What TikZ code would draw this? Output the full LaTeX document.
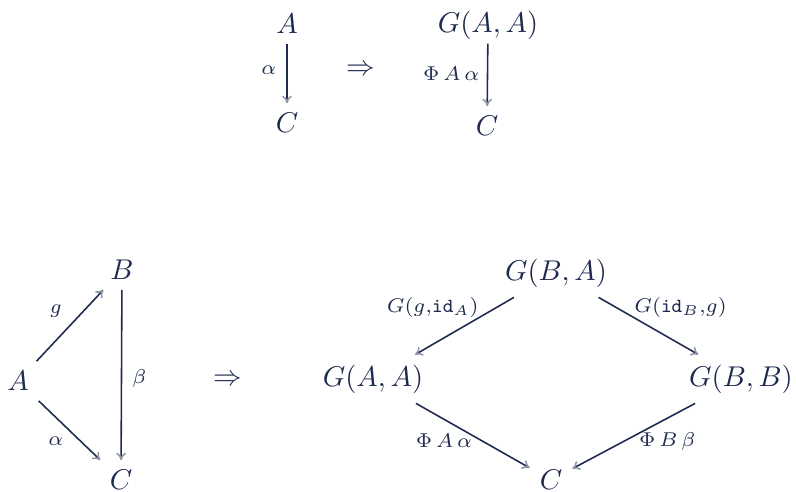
\documentclass[tikz,border=0pt]{standalone}
\usepackage{amsmath, amssymb}
\usepackage{xcolor}
\usepackage{tikz}
\usetikzlibrary{arrows.meta, positioning}
\definecolor{ink}{HTML}{1E2A4E}

\begin{document}
\begin{tikzpicture}[
    x=0.35pt, y=-0.35pt,
    obj/.style={text=ink},
    lbl/.style={text=ink, font=\scriptsize, inner sep=1pt},
    arrow/.style={-{To[length=2.6pt, width=3.4pt, color=ink!50]}, draw=ink, line width=0.55pt}
]
\useasboundingbox (0,0) rectangle (796,491);

% top row: one arrow becomes one arrow
\node[obj] (a0)   at (287,24)  {$A$};
\node[obj] (c0)   at (287,123) {$C$};
\node[obj] (imp0) at (361,70)  {$\Rightarrow$};
\node[obj] (gaa0) at (488,25)  {$G(A,A)$};
\node[obj] (c1)   at (487,126) {$C$};

\draw[arrow] (a0) -- node[lbl, pos=0.45, anchor=east, xshift=-2.5pt] (la0) {$\alpha$} (c0);
\draw[arrow, shorten <=-2pt] (gaa0) -- node[lbl, pos=0.45, anchor=east, xshift=-1.6pt, yshift=0.6pt] (lp0) {$\Phi\,A\,\alpha$} (c1);

% bottom row: triangle becomes square
\node[obj] (a)    at (18,381)  {$A$};
\node[obj] (b)    at (122,270) {$B$};
\node[obj] (c)    at (121,480) {$C$};
\node[obj] (imp1) at (228,380) {$\Rightarrow$};

\draw[arrow] (a) -- node[lbl, pos=0.5, anchor=south east, xshift=-1.6pt, yshift=1.4pt] (lg) {$g$} (b);
\draw[arrow] (b) -- node[lbl, pos=0.52, anchor=west, xshift=2.5pt] (lb) {$\beta$} (c);
\draw[arrow] (a) -- node[lbl, pos=0.41, anchor=north east, xshift=1pt, yshift=-3pt] (la) {$\alpha$} (c);

\node[obj] (gba) at (556,273) {$G(B,A)$};
\node[obj] (gaa) at (373,379) {$G(A,A)$};
\node[obj] (gbb) at (741,379) {$G(B,B)$};
\node[obj] (c2)  at (551,480) {$C$};

\draw[arrow] (gba) -- node[lbl, pos=0.35, anchor=south east, xshift=1pt, yshift=-1.2pt] (lgl) {$G(g{,}\mathtt{id}_A)$} (gaa);
\draw[arrow] (gba) -- node[lbl, pos=0.35, anchor=south west, xshift=-1pt, yshift=-1.2pt] (lgr) {$G(\mathtt{id}_B{,}g)$} (gbb);
\draw[arrow] (gaa) -- node[lbl, pos=0.5, anchor=north east, xshift=1pt, yshift=2pt] (lpa) {$\Phi\,A\,\alpha$} (c2);
\draw[arrow] (gbb) -- node[lbl, pos=0.44, anchor=north west, xshift=-2pt, yshift=1pt] (lpb) {$\Phi\,B\,\beta$} (c2);
\end{tikzpicture}
\end{document}
